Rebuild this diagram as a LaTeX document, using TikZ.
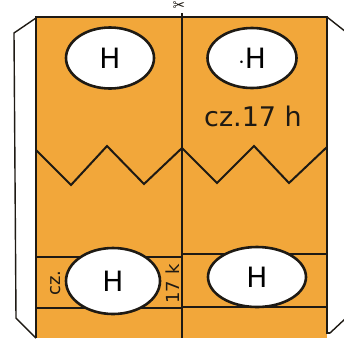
\documentclass[tikz,border=0pt]{standalone}
\usepackage{fontspec}
\usetikzlibrary{shapes.geometric}
\setsansfont{DejaVu Sans}
\newfontfamily\symfont{DejaVu Sans}
\definecolor{boxOrange}{HTML}{F2A73A}
\definecolor{boxLine}{HTML}{1E1A14}

\begin{document}
\begin{tikzpicture}[x=1pt, y=-1pt]
\tikzset{hole/.style={ellipse, draw=boxLine, line width=2.6pt, fill=white, inner sep=0pt,
  font=\sffamily\fontsize{28}{28}\selectfont},
 edge/.style={draw=boxLine, line width=2pt},
 flap/.style={draw=boxLine, line width=1.4pt, fill=white},
 tag/.style={font=\sffamily\fontsize{18}{18}\selectfont, text=boxLine, inner sep=0pt}}
\useasboundingbox (0,0) rectangle (344,338);

% side flaps
\draw[flap] (36,18) -- (14,33) -- (16,318) -- (36,338);
\draw[flap] (327,17) -- (346,32) -- (346,318) -- (330,333);

% body
\fill[boxOrange] (36,17) rectangle (327,338);
\draw[edge] (36,338) -- (36,17) -- (327,17) -- (327,333) -- (330,333);
\draw[edge] (182,13) -- (182,338);

% zigzag edges
\draw[edge] (36,150) -- (71,185) -- (107,146) -- (144,184) -- (182,148)
  -- (217,183) -- (254,146) -- (289,183) -- (327,147);

% bottom strip
\draw[edge] (36,257) -- (182,257) (182,254) -- (327,254);
\draw[edge] (36,308) -- (182,308) (182,307) -- (327,307);

% holes
\node[hole, minimum width=88pt, minimum height=61pt] (hA) at (110,58) {H};
\node[hole, minimum width=89pt, minimum height=60pt] (hB) at (252,58) {$\cdot$H};
\node[hole, minimum width=94pt, minimum height=66pt] (hC) at (113,281) {H};
\node[hole, minimum width=98pt, minimum height=60pt] (hD) at (257,277) {H};

% labels
\node[tag, font=\sffamily\fontsize{27}{27}\selectfont] (lh) at (253,116) {cz.17 h};
\node[tag, rotate=90] (lcz) at (56,283) {cz.};
\node[tag, rotate=90] (lk) at (173,284) {17 k};
\node[inner sep=0pt, text=boxLine, font=\symfont\fontsize{15}{15}\selectfont] (cut) at (179,6) {✂};
\end{tikzpicture}
\end{document}
